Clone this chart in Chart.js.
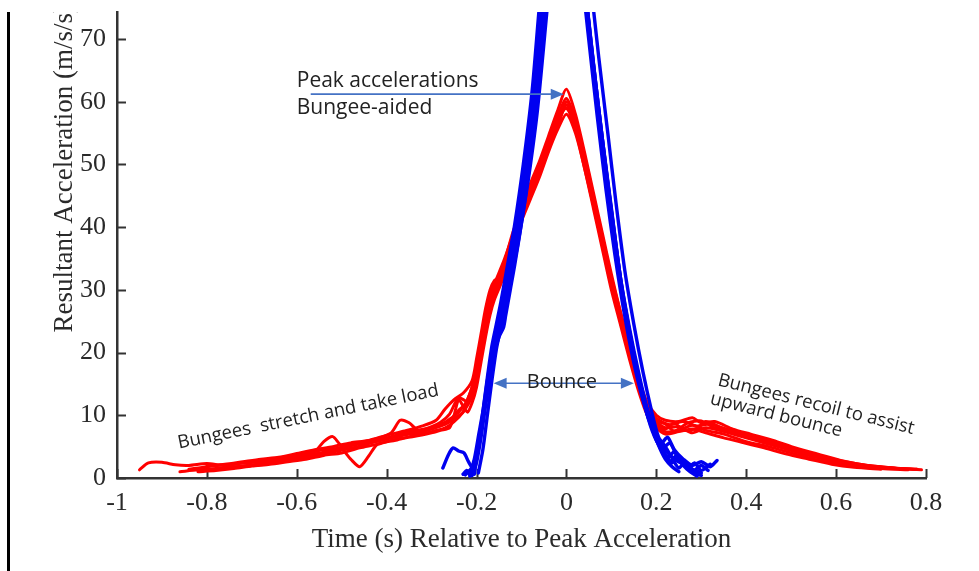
<!DOCTYPE html>
<html>
<head>
<meta charset="utf-8">
<script src="https://cdn.jsdelivr.net/npm/chart.js@4.4.0/dist/chart.umd.min.js"></script>
<style>
  html, body { margin: 0; padding: 0; background: #fff; }
  #wrap { position: relative; width: 979px; height: 571px; }
</style>
</head>
<body>
<div id="wrap"><canvas id="chart"></canvas></div>
<script>
// axis ticks
const xTicks = [-1, -0.8, -0.6, -0.4, -0.2, 0, 0.2, 0.4, 0.6, 0.8];
const yTicks = [0, 10, 20, 30, 40, 50, 60, 70];

// bungee-aided trials (red), [time s, acceleration m/s/s]
const red1 = [[-0.95,1.3],[-0.93,2.4],[-0.9,2.5],[-0.87,2.1],[-0.84,2.0],[-0.8,2.3],[-0.76,2.0],[-0.72,2.4],[-0.68,2.6],[-0.64,3.2],[-0.6,3.6],[-0.55,4.4],[-0.5,4.8],[-0.45,5.8],[-0.4,6.4],[-0.35,7.4],[-0.3,8.0],[-0.27,8.9],[-0.24,10.5],[-0.22,12.5],[-0.2,17],[-0.19,21],[-0.18,25],[-0.17,28.5],[-0.16,30.5],[-0.14,34],[-0.12,39],[-0.1,43],[-0.08,47],[-0.06,50.5],[-0.04,54.5],[-0.02,58.5],[0,62],[0.02,58],[0.04,52],[0.06,45.5],[0.08,39],[0.1,32.5],[0.12,26.5],[0.14,21],[0.16,15.5],[0.18,11.5],[0.2,9.5],[0.23,8.5],[0.26,9.0],[0.29,8.3],[0.32,8.6],[0.36,7.5],[0.4,6.8],[0.45,5.9],[0.5,4.6],[0.55,3.6],[0.6,2.6],[0.65,2.1],[0.7,1.7],[0.75,1.5],[0.79,1.3]];
const red2 = [[-0.86,1.0],[-0.82,1.3],[-0.78,1.5],[-0.74,1.8],[-0.7,2.0],[-0.66,2.4],[-0.62,2.9],[-0.58,3.3],[-0.55,3.9],[-0.52,4.3],[-0.5,4.6],[-0.48,3.0],[-0.46,1.8],[-0.44,3.5],[-0.42,5.4],[-0.38,6.0],[-0.34,6.8],[-0.3,7.4],[-0.27,8.0],[-0.25,9.0],[-0.23,10.5],[-0.21,13],[-0.2,16],[-0.19,20],[-0.18,24],[-0.17,27],[-0.16,29],[-0.14,32.5],[-0.12,37.5],[-0.1,41.5],[-0.08,45],[-0.06,48.5],[-0.04,52.5],[-0.02,56],[0,60],[0.02,56.5],[0.04,50.5],[0.06,44],[0.08,37.5],[0.1,31.5],[0.12,25.5],[0.14,20],[0.16,14.5],[0.18,10.5],[0.2,8.5],[0.22,7.4],[0.25,7.6],[0.28,8.4],[0.31,7.6],[0.35,7.0],[0.4,5.8],[0.45,5.0],[0.5,4.0],[0.55,3.0],[0.6,2.3],[0.65,1.8],[0.7,1.5],[0.76,1.3]];
const red3 = [[-0.84,1.4],[-0.8,1.8],[-0.76,2.1],[-0.72,2.4],[-0.68,2.7],[-0.64,3.0],[-0.6,3.5],[-0.56,4.2],[-0.54,5.8],[-0.52,6.6],[-0.5,5.2],[-0.46,5.6],[-0.42,6.3],[-0.39,7.2],[-0.37,9.2],[-0.35,8.8],[-0.33,7.6],[-0.3,8.2],[-0.28,8.9],[-0.26,10.2],[-0.24,12.8],[-0.22,12.2],[-0.21,14],[-0.2,18],[-0.19,22],[-0.18,26],[-0.17,29],[-0.16,31],[-0.14,34.5],[-0.12,38.5],[-0.1,42.5],[-0.08,46],[-0.06,49.5],[-0.04,53],[-0.02,57],[0,59],[0.02,55.5],[0.04,49.5],[0.06,43.5],[0.08,37],[0.1,30.5],[0.12,25],[0.14,19.5],[0.16,14.5],[0.18,11],[0.2,9.2],[0.22,8.6],[0.24,7.5],[0.27,8.8],[0.3,9.1],[0.33,8.0],[0.37,7.4],[0.41,6.4],[0.45,5.6],[0.5,4.4],[0.55,3.4],[0.6,2.7],[0.66,2.0],[0.72,1.6],[0.78,1.4]];
const red4 = [[-0.82,1.0],[-0.78,1.2],[-0.74,1.5],[-0.7,1.9],[-0.66,2.2],[-0.62,2.6],[-0.58,3.0],[-0.54,3.6],[-0.5,4.0],[-0.46,4.8],[-0.42,5.4],[-0.38,6.2],[-0.34,6.6],[-0.3,7.2],[-0.28,7.6],[-0.26,8.0],[-0.25,10],[-0.24,12.5],[-0.23,11.5],[-0.22,10.5],[-0.21,12],[-0.2,14.5],[-0.19,18.5],[-0.18,22.5],[-0.17,26],[-0.16,28.5],[-0.14,32],[-0.12,37],[-0.1,41],[-0.08,44.5],[-0.06,48],[-0.04,52],[-0.02,55.5],[0,58],[0.02,55],[0.04,49.5],[0.06,43],[0.08,36.5],[0.1,30],[0.12,24.5],[0.14,19],[0.16,14],[0.18,10],[0.2,8],[0.22,7.0],[0.25,7.4],[0.28,7.8],[0.31,7.2],[0.35,6.4],[0.39,5.7],[0.44,4.8],[0.49,3.8],[0.54,3.0],[0.59,2.2],[0.64,1.7],[0.7,1.4]];
const red5 = [[-0.8,1.9],[-0.76,2.2],[-0.72,2.6],[-0.68,3.0],[-0.64,3.3],[-0.6,3.9],[-0.56,4.5],[-0.52,5.0],[-0.48,5.6],[-0.44,6.0],[-0.4,6.8],[-0.36,7.5],[-0.32,8.3],[-0.29,9.2],[-0.27,11],[-0.25,12.5],[-0.23,13.5],[-0.21,15.5],[-0.2,19],[-0.19,23],[-0.18,27],[-0.17,30],[-0.16,31.5],[-0.15,32],[-0.13,35.5],[-0.11,40],[-0.09,44],[-0.07,47.5],[-0.05,51],[-0.03,55],[-0.01,58.5],[0,59],[0.02,57],[0.04,51.5],[0.06,45],[0.08,38.5],[0.1,32],[0.12,26.5],[0.14,21],[0.16,16],[0.18,12],[0.2,10],[0.22,9.2],[0.25,9.0],[0.28,9.6],[0.3,8.8],[0.33,9.0],[0.37,7.8],[0.41,7.0],[0.46,6.0],[0.51,4.8],[0.56,3.8],[0.61,2.8],[0.67,2.0],[0.73,1.6],[0.78,1.4]];
const red6 = [[-0.78,1.4],[-0.74,1.7],[-0.7,2.1],[-0.66,2.5],[-0.62,3.1],[-0.58,3.6],[-0.54,4.1],[-0.5,4.9],[-0.46,5.4],[-0.42,5.9],[-0.38,6.6],[-0.34,7.2],[-0.31,7.6],[-0.28,8.3],[-0.26,9.0],[-0.24,10.8],[-0.22,12.0],[-0.21,13.5],[-0.2,16.5],[-0.19,20.5],[-0.18,24.5],[-0.17,27.5],[-0.16,29.5],[-0.14,33.5],[-0.12,38],[-0.1,42],[-0.08,46],[-0.06,50],[-0.04,53.5],[-0.02,57.5],[0,60.5],[0.02,57],[0.04,51],[0.06,44.5],[0.08,38],[0.1,31.5],[0.12,26],[0.14,20.5],[0.16,15],[0.18,10.8],[0.2,8.6],[0.22,7.8],[0.24,8.8],[0.26,7.6],[0.29,7.9],[0.31,9.0],[0.34,8.2],[0.38,7.3],[0.42,6.5],[0.47,5.5],[0.52,4.4],[0.57,3.4],[0.62,2.6],[0.68,1.9],[0.74,1.5]];
const red7 = [[-0.75,1.6],[-0.71,1.9],[-0.67,2.2],[-0.63,2.7],[-0.59,3.2],[-0.55,3.7],[-0.51,4.3],[-0.47,4.9],[-0.43,5.7],[-0.39,6.4],[-0.35,7.0],[-0.32,7.5],[-0.29,8.1],[-0.27,8.6],[-0.25,9.5],[-0.23,10.5],[-0.22,12.5],[-0.21,14.5],[-0.2,17.5],[-0.19,21.5],[-0.18,25.5],[-0.17,28],[-0.16,30],[-0.14,33],[-0.12,37.5],[-0.1,41.5],[-0.08,45],[-0.06,49],[-0.04,52.5],[-0.02,56],[0,59.5],[0.02,56.5],[0.04,51],[0.06,44.5],[0.08,38],[0.1,31.5],[0.12,26],[0.14,20.5],[0.16,15.5],[0.18,11.5],[0.2,9],[0.22,8.0],[0.25,8.2],[0.28,7.2],[0.31,8.0],[0.34,7.6],[0.38,6.8],[0.42,6.0],[0.47,5.0],[0.52,4.0],[0.57,3.1],[0.62,2.4],[0.67,1.8],[0.72,1.5]];

// unaided trials (blue), peaks run off the top of the plot
const blue1 = [[-0.275,1.6],[-0.262,3.8],[-0.252,4.8],[-0.24,4.3],[-0.228,4.0],[-0.218,2.6],[-0.21,1.8],[-0.2,4],[-0.19,8],[-0.18,13],[-0.17,18],[-0.16,22],[-0.15,25],[-0.14,28],[-0.13,32],[-0.12,36],[-0.1,45],[-0.08,56],[-0.06,71],[-0.04,85],[-0.02,95],[0,99],[0.02,92],[0.04,79],[0.06,66],[0.08,54],[0.1,43],[0.12,32],[0.14,24],[0.16,17],[0.18,11],[0.2,7],[0.22,4.5],[0.24,3.0],[0.26,2.2],[0.28,1.4],[0.3,0.8]];
const blue2 = [[-0.225,0.5],[-0.212,1.5],[-0.205,3],[-0.195,7],[-0.185,11],[-0.175,16],[-0.165,20],[-0.155,23.5],[-0.145,26.5],[-0.135,30],[-0.125,34],[-0.105,43],[-0.085,53],[-0.065,68],[-0.045,82],[-0.025,92],[-0.005,97],[0.015,93],[0.035,81],[0.055,68],[0.075,56],[0.095,45],[0.115,34],[0.135,25],[0.155,18],[0.175,12],[0.195,7.5],[0.21,5.5],[0.225,6.5],[0.24,4.5],[0.26,3.0],[0.28,2.0],[0.3,2.6],[0.32,1.8],[0.335,2.8]];
const blue3 = [[-0.215,0.3],[-0.205,1.8],[-0.198,4],[-0.188,8.5],[-0.178,13.5],[-0.168,18.5],[-0.158,22],[-0.148,25],[-0.138,28.5],[-0.128,32.5],[-0.118,36.5],[-0.098,46],[-0.078,57],[-0.058,72],[-0.038,86],[-0.018,96],[0.002,99],[0.022,90],[0.042,77],[0.062,64],[0.082,52],[0.102,41],[0.122,30.5],[0.142,22.5],[0.162,15.5],[0.182,9.5],[0.2,6.0],[0.215,4.8],[0.23,5.6],[0.245,3.6],[0.26,2.0],[0.275,1.0],[0.29,0.3]];
const blue4 = [[-0.21,0.4],[-0.2,2.5],[-0.19,6.5],[-0.18,11.5],[-0.17,16],[-0.16,20],[-0.15,22.5],[-0.14,24],[-0.135,26],[-0.125,30],[-0.115,34],[-0.095,43],[-0.075,54],[-0.055,69],[-0.035,83],[-0.015,93],[0.005,97],[0.025,89],[0.045,76],[0.065,63],[0.085,51],[0.105,40],[0.125,29.5],[0.145,21.5],[0.165,14.5],[0.185,9],[0.205,5.5],[0.22,3.8],[0.235,2.4],[0.25,3.4],[0.265,1.8],[0.28,1.0],[0.3,2.0],[0.315,1.2]];
const blue5 = [[-0.196,0.8],[-0.186,4.5],[-0.176,10],[-0.166,15.5],[-0.156,20.5],[-0.146,24],[-0.136,27.5],[-0.126,31],[-0.114,35],[-0.104,39],[-0.084,48],[-0.064,59],[-0.044,74],[-0.026,88],[-0.008,97],[0.012,100],[0.032,92],[0.052,80],[0.072,67],[0.092,55],[0.11,44],[0.13,33],[0.15,24.5],[0.17,17],[0.19,10.5],[0.205,6.5],[0.22,5.0],[0.235,3.2],[0.25,1.6],[0.265,2.6],[0.28,1.4],[0.295,0.5]];
const blue6 = [[-0.22,1.0],[-0.213,0.4],[-0.205,2.0],[-0.195,6],[-0.185,10.5],[-0.175,15],[-0.165,19],[-0.155,22.5],[-0.148,24],[-0.14,25.5],[-0.13,29.5],[-0.12,33.5],[-0.1,42.5],[-0.08,53.5],[-0.06,68],[-0.04,83],[-0.02,93],[0,98],[0.02,91],[0.04,79],[0.06,66],[0.08,54],[0.1,42.5],[0.12,32],[0.14,23.5],[0.16,16.5],[0.18,10.5],[0.195,7.0],[0.21,4.6],[0.225,3.2],[0.24,4.2],[0.255,2.8],[0.27,1.6],[0.285,2.4],[0.3,1.2],[0.32,2.2]];
const blue7 = [[-0.205,0.6],[-0.196,5],[-0.186,10.5],[-0.176,16],[-0.166,21],[-0.156,24.5],[-0.146,28],[-0.136,32],[-0.126,36],[-0.116,40],[-0.096,50],[-0.076,62],[-0.058,77],[-0.038,90],[-0.016,98],[0.006,96],[0.028,84],[0.048,71],[0.068,58],[0.088,46],[0.108,35.5],[0.128,26.5],[0.148,19],[0.168,13],[0.188,8.5],[0.205,5.2],[0.22,3.0],[0.235,1.8],[0.25,1.0]];
const blue8 = [[-0.23,0.6],[-0.222,1.2],[-0.21,0.8],[-0.2,3.5],[-0.19,7.5],[-0.18,12.5],[-0.17,17.5],[-0.16,21.5],[-0.15,24.5],[-0.14,27.5],[-0.13,31],[-0.12,35],[-0.1,44],[-0.08,55],[-0.06,70],[-0.04,84],[-0.02,94],[0,98],[0.02,90.5],[0.04,77.5],[0.06,64.5],[0.08,52.5],[0.1,41.5],[0.12,31],[0.14,23],[0.16,16],[0.18,10],[0.2,6.5],[0.215,4.2],[0.23,2.6],[0.245,3.6],[0.26,2.4],[0.28,1.2],[0.3,0.4]];

const redTrials = [red1, red2, red3, red4, red5, red6, red7];
const blueTrials = [blue1, blue2, blue3, blue4, blue5, blue6, blue7, blue8];

const serif = "'Liberation Serif', 'Times New Roman', serif";
const sans = "'Open Sans', 'Noto Sans', sans-serif";
const axisColor = '#333333';
const noteColor = '#4472c4';

function toPoints(trial) {
    return trial.map(p => ({ x: p[0], y: p[1] }));
}

function makeDataset(trial, color, width, order) {
    return {
        data: toPoints(trial),
        borderColor: color,
        borderWidth: width,
        pointRadius: 0,
        tension: 0.25,
        fill: false,
        order: order,
        borderCapStyle: 'round',
        borderJoinStyle: 'round'
    };
}

// arrow along a horizontal line, heads at the chosen ends
function drawArrow(ctx, x1, x2, y, headStart, headEnd) {
    ctx.save();
    ctx.strokeStyle = noteColor;
    ctx.fillStyle = noteColor;
    ctx.lineWidth = 1.6;
    ctx.beginPath();
    ctx.moveTo(headStart ? x1 + 10 : x1, y);
    ctx.lineTo(headEnd ? x2 - 10 : x2, y);
    ctx.stroke();
    const head = (tip, dir) => {
        ctx.beginPath();
        ctx.moveTo(tip, y);
        ctx.lineTo(tip - dir * 13, y - 5.5);
        ctx.lineTo(tip - dir * 13, y + 5.5);
        ctx.closePath();
        ctx.fill();
    };
    if (headStart) head(x1, -1);
    if (headEnd) head(x2, 1);
    ctx.restore();
}

const figurePlugin = {
    id: 'figurePlugin',
    beforeDatasetsDraw(chart) {
        // inward tick marks
        const { ctx, chartArea, scales } = chart;
        ctx.save();
        ctx.strokeStyle = axisColor;
        ctx.lineWidth = 2;
        yTicks.forEach(v => {
            const py = Math.round(scales.y.getPixelForValue(v)) + 0.5;
            ctx.beginPath();
            ctx.moveTo(chartArea.left, py);
            ctx.lineTo(chartArea.left + 9, py);
            ctx.stroke();
        });
        xTicks.forEach(v => {
            const px = Math.round(scales.x.getPixelForValue(v)) + 0.5;
            ctx.beginPath();
            ctx.moveTo(px, chartArea.bottom);
            ctx.lineTo(px, chartArea.bottom - 9);
            ctx.stroke();
        });
        ctx.restore();
    },
    afterDraw(chart) {
        const { ctx, chartArea, scales } = chart;
        const x = scales.x, y = scales.y;
        ctx.save();

        // everything above the crop line is blank
        ctx.beginPath();
        ctx.rect(0, chartArea.top, chart.width, chart.height);
        ctx.clip();

        // frame line at the left edge
        ctx.fillStyle = '#000';
        ctx.fillRect(7, chartArea.top, 3, chart.height - chartArea.top);

        // axis titles
        ctx.fillStyle = '#2a2a2a';
        ctx.font = '27px ' + serif;
        ctx.textBaseline = 'alphabetic';
        ctx.textAlign = 'center';
        ctx.fillText('Time (s) Relative to Peak Acceleration', (chartArea.left + chartArea.right) / 2, 547);
        ctx.save();
        ctx.translate(72, y.getPixelForValue(23.2));
        ctx.rotate(-Math.PI / 2);
        ctx.textAlign = 'left';
        ctx.fillText('Resultant Acceleration (m/s/s)', 0, 0);
        ctx.restore();

        // annotations
        ctx.fillStyle = '#222';
        ctx.font = '21px ' + sans;
        ctx.textAlign = 'left';
        ctx.fillText('Peak accelerations', x.getPixelForValue(-0.6), y.getPixelForValue(62.4));
        ctx.fillText('Bungee-aided', x.getPixelForValue(-0.6), y.getPixelForValue(58.0));
        drawArrow(ctx, x.getPixelForValue(-0.569), x.getPixelForValue(-0.006), y.getPixelForValue(61.2), false, true);

        drawArrow(ctx, x.getPixelForValue(-0.162), x.getPixelForValue(0.150), y.getPixelForValue(15.1), true, true);
        ctx.font = '20px ' + sans;
        ctx.textAlign = 'center';
        ctx.textBaseline = 'middle';
        ctx.fillStyle = '#222';
        ctx.fillText('Bounce', x.getPixelForValue(-0.01), y.getPixelForValue(15.2));

        ctx.font = '18.5px ' + sans;
        ctx.textAlign = 'left';
        ctx.textBaseline = 'alphabetic';
        ctx.save();
        ctx.translate(x.getPixelForValue(-0.862), y.getPixelForValue(4.7));
        ctx.rotate(-11.5 * Math.PI / 180);
        ctx.fillText('Bungees  stretch and take load', 0, 0);
        ctx.restore();

        ctx.save();
        ctx.translate(x.getPixelForValue(0.335), y.getPixelForValue(14.8));
        ctx.rotate(14 * Math.PI / 180);
        ctx.fillText('Bungees recoil to assist', 0, 0);
        ctx.fillText('upward bounce', -3, 20);
        ctx.restore();

        ctx.restore();
    }
};

const datasets = [];
redTrials.forEach(t => datasets.push(makeDataset(t, '#ff0000', 3, 1)));
blueTrials.forEach(t => datasets.push(makeDataset(t, '#0000f0', 3.4, 0)));

new Chart(document.getElementById('chart'), {
    type: 'line',
    data: { datasets: datasets },
    options: {
        responsive: true,
        maintainAspectRatio: false,
        animation: false,
        layout: { padding: { top: 12, right: 53, left: 0, bottom: 0 } },
        plugins: {
            legend: { display: false },
            tooltip: { enabled: false }
        },
        scales: {
            x: {
                type: 'linear',
                min: -1,
                max: 0.8,
                afterBuildTicks: scale => { scale.ticks = xTicks.map(v => ({ value: v })); },
                afterFit: scale => {
                    scale.height = 93;
                    scale.paddingLeft = 0;
                    scale.paddingRight = 0;
                },
                grid: { display: true, drawOnChartArea: false, drawTicks: false },
                border: { display: true, color: axisColor, width: 2.5 },
                ticks: {
                    padding: 10,
                    color: '#2a2a2a',
                    font: { family: serif, size: 26 },
                    maxRotation: 0,
                    callback: v => String(Math.round(v * 10) / 10)
                }
            },
            y: {
                type: 'linear',
                min: 0,
                max: 74.3,
                afterBuildTicks: scale => { scale.ticks = yTicks.map(v => ({ value: v })); },
                afterFit: scale => {
                    scale.width = 117;
                    scale.paddingTop = 0;
                    scale.paddingBottom = 0;
                },
                grid: { display: true, drawOnChartArea: false, drawTicks: false },
                border: { display: true, color: axisColor, width: 2.5 },
                ticks: {
                    padding: 11,
                    color: '#2a2a2a',
                    font: { family: serif, size: 26 },
                    callback: v => String(v)
                }
            }
        }
    },
    plugins: [figurePlugin]
});
</script>
</body>
</html>
